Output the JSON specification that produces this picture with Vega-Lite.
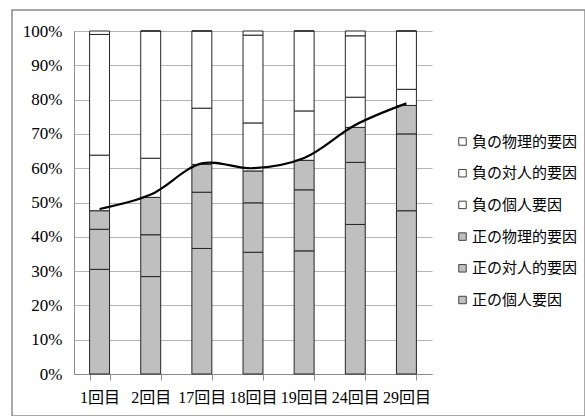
{
  "$schema": "https://vega.github.io/schema/vega-lite/v6.json",
  "width": 573,
  "height": 406,
  "autosize": {"type": "none"},
  "padding": {"left": 12, "top": 10, "right": 0, "bottom": 0},
  "background": "#ffffff",
  "config": {
    "view": {"stroke": "#8c8c8c", "strokeWidth": 1.5},
    "axis": {
      "labelFont": "Liberation Serif, Noto Sans CJK JP",
      "labelColor": "#000000",
      "domainColor": "#8c8c8c",
      "tickColor": "#8c8c8c",
      "gridColor": "#b4b4b4",
      "gridWidth": 1.2
    }
  },
  "datasets": {
    "shares": [
      {"回": "1回目", "要因": "正の個人要因", "割合": 30.5},
      {"回": "1回目", "要因": "正の対人的要因", "割合": 11.7},
      {"回": "1回目", "要因": "正の物理的要因", "割合": 5.4},
      {"回": "1回目", "要因": "負の個人要因", "割合": 16.2},
      {"回": "1回目", "要因": "負の対人的要因", "割合": 35.2},
      {"回": "1回目", "要因": "負の物理的要因", "割合": 1.0},
      {"回": "2回目", "要因": "正の個人要因", "割合": 28.4},
      {"回": "2回目", "要因": "正の対人的要因", "割合": 12.2},
      {"回": "2回目", "要因": "正の物理的要因", "割合": 10.9},
      {"回": "2回目", "要因": "負の個人要因", "割合": 11.4},
      {"回": "2回目", "要因": "負の対人的要因", "割合": 37.1},
      {"回": "2回目", "要因": "負の物理的要因", "割合": 0},
      {"回": "17回目", "要因": "正の個人要因", "割合": 36.6},
      {"回": "17回目", "要因": "正の対人的要因", "割合": 16.4},
      {"回": "17回目", "要因": "正の物理的要因", "割合": 8.1},
      {"回": "17回目", "要因": "負の個人要因", "割合": 16.4},
      {"回": "17回目", "要因": "負の対人的要因", "割合": 22.5},
      {"回": "17回目", "要因": "負の物理的要因", "割合": 0},
      {"回": "18回目", "要因": "正の個人要因", "割合": 35.5},
      {"回": "18回目", "要因": "正の対人的要因", "割合": 14.4},
      {"回": "18回目", "要因": "正の物理的要因", "割合": 9.3},
      {"回": "18回目", "要因": "負の個人要因", "割合": 14.0},
      {"回": "18回目", "要因": "負の対人的要因", "割合": 25.6},
      {"回": "18回目", "要因": "負の物理的要因", "割合": 1.2},
      {"回": "19回目", "要因": "正の個人要因", "割合": 35.9},
      {"回": "19回目", "要因": "正の対人的要因", "割合": 17.8},
      {"回": "19回目", "要因": "正の物理的要因", "割合": 8.6},
      {"回": "19回目", "要因": "負の個人要因", "割合": 14.4},
      {"回": "19回目", "要因": "負の対人的要因", "割合": 23.3},
      {"回": "19回目", "要因": "負の物理的要因", "割合": 0},
      {"回": "24回目", "要因": "正の個人要因", "割合": 43.6},
      {"回": "24回目", "要因": "正の対人的要因", "割合": 18.1},
      {"回": "24回目", "要因": "正の物理的要因", "割合": 10.2},
      {"回": "24回目", "要因": "負の個人要因", "割合": 8.8},
      {"回": "24回目", "要因": "負の対人的要因", "割合": 17.9},
      {"回": "24回目", "要因": "負の物理的要因", "割合": 1.4},
      {"回": "29回目", "要因": "正の個人要因", "割合": 47.6},
      {"回": "29回目", "要因": "正の対人的要因", "割合": 22.4},
      {"回": "29回目", "要因": "正の物理的要因", "割合": 8.3},
      {"回": "29回目", "要因": "負の個人要因", "割合": 4.7},
      {"回": "29回目", "要因": "負の対人的要因", "割合": 17.0},
      {"回": "29回目", "要因": "負の物理的要因", "割合": 0}
    ],
    "trend": [
      {"回": "1回目", "正の割合": 48.1},
      {"回": "2回目", "正の割合": 52.3},
      {"回": "17回目", "正の割合": 61.4},
      {"回": "18回目", "正の割合": 60.0},
      {"回": "19回目", "正の割合": 63.0},
      {"回": "24回目", "正の割合": 72.6},
      {"回": "29回目", "正の割合": 78.9}
    ]
  },
  "layer": [
    {
      "data": {"name": "shares"},
      "mark": {"type": "bar", "stroke": "#262626", "strokeWidth": 1},
      "encoding": {
        "x": {
          "field": "回",
          "type": "nominal",
          "sort": null,
          "scale": {"range": [62, 420], "paddingInner": 0.61, "paddingOuter": 0.305},
          "axis": {
            "title": null,
            "orient": "bottom",
            "offset": -42,
            "labelAngle": 0,
            "labelFontSize": 16,
            "labelPadding": 9,
            "labelOverlap": false,
            "tickBand": "extent",
            "tickSize": 6,
            "grid": false
          }
        },
        "y": {
          "field": "割合",
          "type": "quantitative",
          "stack": "zero",
          "scale": {"domain": [0, 100], "range": [364, 21], "nice": false},
          "axis": {
            "title": null,
            "orient": "left",
            "offset": -62,
            "values": [0, 10, 20, 30, 40, 50, 60, 70, 80, 90, 100],
            "labelExpr": "datum.value + '%'",
            "labelFontSize": 17,
            "labelPadding": 12,
            "ticks": false,
            "grid": true
          }
        },
        "order": {"field": "要因", "type": "ordinal", "sort": "ascending"},
        "color": {
          "field": "要因",
          "type": "nominal",
          "scale": {
            "domain": ["負の物理的要因", "負の対人的要因", "負の個人要因", "正の物理的要因", "正の対人的要因", "正の個人要因"],
            "range": ["#ffffff", "#ffffff", "#ffffff", "#bfbfbf", "#bfbfbf", "#bfbfbf"]
          },
          "legend": {
            "title": null,
            "orient": "none",
            "legendX": 443,
            "legendY": 124,
            "padding": 0,
            "symbolType": "square",
            "symbolSize": 56,
            "symbolStrokeColor": "#404040",
            "symbolStrokeWidth": 1,
            "labelFont": "Noto Sans CJK JP",
            "labelFontSize": 15,
            "labelColor": "#000000",
            "labelOffset": 2,
            "rowPadding": 15.7
          }
        }
      }
    },
    {
      "data": {"name": "trend"},
      "mark": {"type": "line", "color": "#000000", "strokeWidth": 2.2, "interpolate": "catmull-rom"},
      "encoding": {
        "x": {"field": "回", "type": "nominal", "sort": null},
        "y": {"field": "正の割合", "type": "quantitative"}
      }
    }
  ]
}
